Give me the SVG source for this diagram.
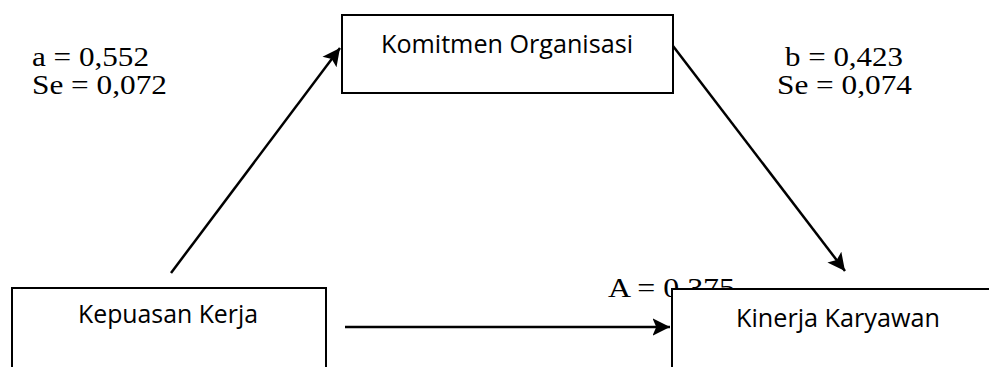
<svg xmlns="http://www.w3.org/2000/svg" width="989" height="367" viewBox="0 0 989 367">
<style>
.box{fill:#fff;stroke:#000;stroke-width:2}
.lbl{font-family:"Open Sans","Noto Sans",sans-serif;font-size:25px;fill:#000}
.val{font-family:"Liberation Serif",serif;font-size:27px;fill:#000}
.conn{stroke:#000;stroke-width:2.5;fill:none}
</style>
<defs>
<marker id="ah" markerWidth="8" markerHeight="8" refX="7" refY="4" orient="auto" markerUnits="strokeWidth">
<path d="M0,0.5 L7,4 L0,7.5 L1.5,4 Z" fill="#000"/>
</marker>
</defs>
<text class="val" x="32" y="66" textLength="117" lengthAdjust="spacingAndGlyphs">a = 0,552</text>
<text class="val" x="32" y="94" textLength="135" lengthAdjust="spacingAndGlyphs">Se = 0,072</text>
<text class="val" x="785" y="66" textLength="118" lengthAdjust="spacingAndGlyphs">b = 0,423</text>
<text class="val" x="777" y="94" textLength="135" lengthAdjust="spacingAndGlyphs">Se = 0,074</text>
<text class="val" x="608" y="297" textLength="127" lengthAdjust="spacingAndGlyphs">A = 0,375</text>
<g id="connectors">
<line class="conn" x1="171" y1="273" x2="340" y2="48" marker-end="url(#ah)"/>
<line class="conn" x1="673" y1="46" x2="845" y2="271" marker-end="url(#ah)"/>
<line class="conn" x1="345" y1="327" x2="670" y2="327" marker-end="url(#ah)"/>
</g>
<g id="komitmen">
<rect class="box" x="342" y="15" width="331" height="78"/>
<text class="lbl" x="381" y="53" textLength="252" lengthAdjust="spacingAndGlyphs">Komitmen Organisasi</text>
</g>
<g id="kepuasan">
<rect class="box" x="12" y="288" width="314" height="100"/>
<text class="lbl" x="78" y="323" textLength="180" lengthAdjust="spacingAndGlyphs">Kepuasan Kerja</text>
</g>
<g id="kinerja">
<rect class="box" x="672" y="289" width="330" height="100"/>
<text class="lbl" x="736" y="327" textLength="204" lengthAdjust="spacingAndGlyphs">Kinerja Karyawan</text>
</g>
</svg>
